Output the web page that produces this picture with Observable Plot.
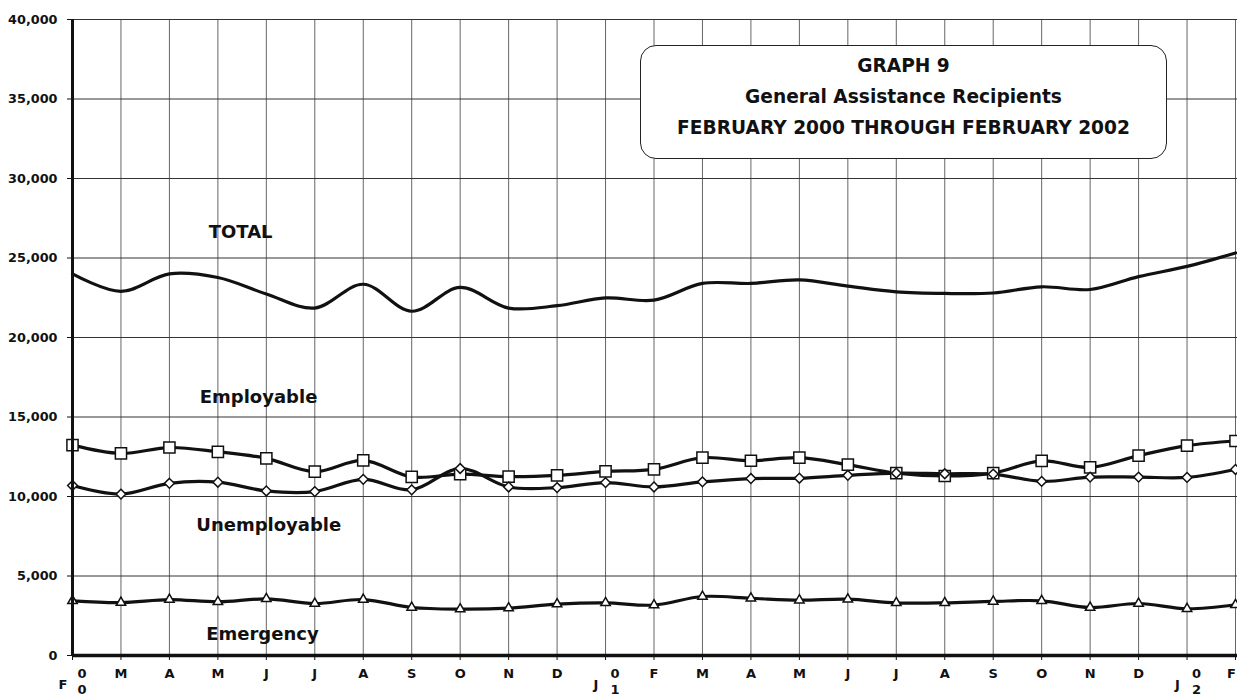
<!DOCTYPE html>
<html>
<head>
<meta charset="utf-8">
<script src="https://cdn.jsdelivr.net/npm/d3@7"></script>
<script src="https://cdn.jsdelivr.net/npm/@observablehq/plot@0.6"></script>
<style>
  html, body { margin: 0; padding: 0; background: #fff; }
  #wrap { position: relative; width: 1237px; height: 700px; overflow: hidden; }
  #titlebox {
    position: absolute; left: 640px; top: 45px; width: 525px; height: 108px;
    border: 1.3px solid #222; border-radius: 16px; background: #fff;
    font-family: "DejaVu Sans", sans-serif; font-weight: bold; font-size: 18.6px;
    line-height: 31px; text-align: center; color: #111; padding-top: 4px; box-sizing: content-box;
  }
</style>
</head>
<body>
<div id="wrap">
  <div id="chart"></div>
  <div id="titlebox">
    <div>GRAPH 9</div>
    <div>General Assistance Recipients</div>
    <div>FEBRUARY 2000 THROUGH FEBRUARY 2002</div>
  </div>
</div>
<script>
// Months Feb 2000 .. Feb 2002 (index 0..24)
const monthIndex = [0,1,2,3,4,5,6,7,8,9,10,11,12,13,14,15,16,17,18,19,20,21,22,23,24];
const tickLabels = ["F","M","A","M","J","J","A","S","O","N","D","J","F","M","A","M","J","J","A","S","O","N","D","J","F"];
// year markers: index, year digits
const yearIndex = [0, 11, 23];
const yearDigitTop = ["0", "0", "0"];
const yearDigitBottom = ["0", "1", "2"];

const yTicks = [0, 5000, 10000, 15000, 20000, 25000, 30000, 35000, 40000];

const total = [24000, 22900, 24000, 23770, 22740, 21850, 23350, 21650, 23150, 21850, 22000, 22490,
               22350, 23400, 23400, 23620, 23230, 22870, 22770, 22800, 23190, 23020, 23830, 24470, 25320];
const employable = [13230, 12710, 13080, 12810, 12400, 11560, 12270, 11230, 11410, 11250, 11330, 11580,
                    11710, 12440, 12250, 12440, 12000, 11470, 11290, 11470, 12240, 11830, 12570, 13200, 13490];
const unemployable = [10690, 10150, 10830, 10900, 10350, 10310, 11080, 10420, 11760, 10600, 10560, 10875,
                      10600, 10920, 11130, 11150, 11330, 11470, 11430, 11410, 10950, 11220, 11220, 11200, 11700];
const emergency = [3440, 3330, 3520, 3375, 3560, 3270, 3520, 3020, 2920, 2980, 3230, 3310,
                   3170, 3710, 3600, 3480, 3540, 3310, 3310, 3400, 3440, 3020, 3270, 2940, 3190];

const seriesNames = ["TOTAL", "Employable", "Unemployable", "Emergency"];
const labelX = [3.47, 3.84, 4.05, 3.92];
const labelY = [26600, 16230, 8180, 1320];

const rows = (vals) => monthIndex.map(i => ({i, v: vals[i]}));
const lastIdx = monthIndex[monthIndex.length - 1];
const normalIdx = monthIndex.filter(i => !yearIndex.includes(i) && i !== lastIdx);

const ink = "#111";
const plot = Plot.plot({
  width: 1237, height: 700,
  marginLeft: 72, marginRight: 2, marginTop: 19, marginBottom: 45,
  x: {domain: [0, 24]},
  y: {domain: [0, 40000]},
  style: {fontFamily: "'DejaVu Sans', sans-serif", fontWeight: "bold", color: ink, background: "#fff"},
  marks: [
    Plot.ruleX(monthIndex, {x: d => d, stroke: "#555", strokeWidth: 0.9}),
    Plot.ruleY(yTicks, {y: d => d, x1: 0, x2: 24.1, stroke: "#333", strokeWidth: 1}),
    Plot.axisY({ticks: yTicks, tickFormat: d3.format(","), tickSize: 5, tickPadding: 10, fontSize: 12.8, label: null}),
    Plot.axisX({ticks: monthIndex, tickFormat: () => "", tickSize: 5, label: null}),
    Plot.text(normalIdx, {x: d => d, text: d => tickLabels[d], frameAnchor: "bottom", dy: 22.5, fontSize: 13}),
    Plot.text([lastIdx], {x: d => d, text: d => tickLabels[d], frameAnchor: "bottom", dy: 22.5, dx: -4, fontSize: 13}),
    Plot.text(yearIndex, {x: d => d, text: d => tickLabels[d], frameAnchor: "bottom", dy: 33, dx: -9.5, fontSize: 13}),
    Plot.text(yearIndex, {x: d => d, text: (d, k) => yearDigitTop[k], frameAnchor: "bottom", dy: 22.5, dx: 9.5, fontSize: 13}),
    Plot.text(yearIndex, {x: d => d, text: (d, k) => yearDigitBottom[k], frameAnchor: "bottom", dy: 38, dx: 9.5, fontSize: 13}),
    Plot.lineY(rows(total), {x: "i", y: "v", curve: "catmull-rom", stroke: ink, strokeWidth: 3.2}),
    Plot.lineY(rows(employable), {x: "i", y: "v", curve: "catmull-rom", stroke: ink, strokeWidth: 3.2}),
    Plot.lineY(rows(unemployable), {x: "i", y: "v", curve: "catmull-rom", stroke: ink, strokeWidth: 3.2}),
    Plot.lineY(rows(emergency), {x: "i", y: "v", curve: "catmull-rom", stroke: ink, strokeWidth: 3.2}),
    Plot.dot(rows(employable), {x: "i", y: "v", symbol: "square", r: 6.3, fill: "#fff", stroke: ink, strokeWidth: 1.5}),
    Plot.dot(rows(unemployable), {x: "i", y: "v", symbol: "diamond2", r: 4.4, fill: "#fff", stroke: ink, strokeWidth: 1.5}),
    Plot.dot(rows(emergency), {x: "i", y: "v", symbol: "triangle2", r: 4.5, fill: "#fff", stroke: ink, strokeWidth: 1.5}),
    Plot.ruleX([0], {stroke: ink, strokeWidth: 3}),
    Plot.ruleY([0], {x1: 0, x2: 24.1, stroke: ink, strokeWidth: 3.5}),
    Plot.text(seriesNames, {x: (d, k) => labelX[k], y: (d, k) => labelY[k], text: d => d, fontSize: 18, fill: ink})
  ]
});
document.getElementById("chart").appendChild(plot);
</script>
</body>
</html>
